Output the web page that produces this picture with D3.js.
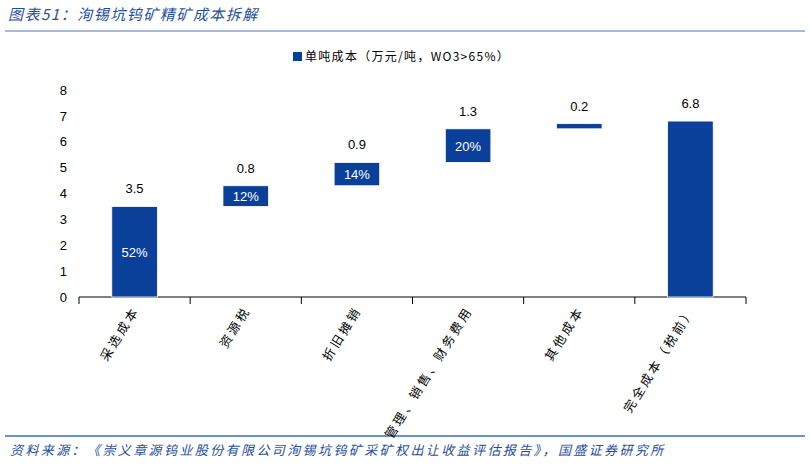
<!DOCTYPE html>
<html><head><meta charset="utf-8">
<script src="https://cdn.jsdelivr.net/npm/d3@7"></script>
<style>body{margin:0;background:#fff;font-family:"Noto Sans CJK SC","Liberation Sans",sans-serif;}</style>
</head><body><svg id="c" width="810" height="465"></svg>
<script>
const categories = ["采选成本", "资源税", "折旧摊销", "管理、销售、财务费用", "其他成本", "完全成本（税前）"];
const values = [3.5, 0.8, 0.9, 1.3, 0.2, 6.8];
const shares = ["52%", "12%", "14%", "20%", "", ""];
const yTicks = [0, 1, 2, 3, 4, 5, 6, 7, 8];

// waterfall bases: running total, last bar is the total from zero
const bases = [];
let run = 0;
values.forEach((v, i) => {
    if (i === values.length - 1) { bases.push(0); } else { bases.push(run); run += v; }
});

const svg = d3.select("#c");
const blue = "#0a3f9a";
const titleBlue = "#1f4e9c";

svg.append("text").attr("x", 8).attr("y", 20).attr("font-size", 15).attr("font-style", "italic")
   .attr("letter-spacing", 1.5).attr("fill", titleBlue).text("图表51：洵锡坑钨矿精矿成本拆解");
svg.append("line").attr("x1", 5).attr("x2", 805).attr("y1", 31).attr("y2", 31).attr("stroke", "#8aa6cc").attr("stroke-width", 1.5);
svg.append("line").attr("x1", 5).attr("x2", 805).attr("y1", 436).attr("y2", 436).attr("stroke", "#3a6fb5").attr("stroke-width", 1.5);
svg.append("text").attr("x", 10).attr("y", 455).attr("font-size", 13).attr("font-style", "italic")
   .attr("letter-spacing", 2.4).attr("fill", titleBlue)
   .text("资料来源：《崇义章源钨业股份有限公司洵锡坑钨矿采矿权出让收益评估报告》，国盛证券研究所");

const x = d3.scaleBand().domain(categories).range([79, 746]).paddingInner(0.59).paddingOuter(0.295);
const y = d3.scaleLinear().domain([0, 8]).range([297, 90]);

// legend
svg.append("rect").attr("x", 293).attr("y", 52).attr("width", 9).attr("height", 9).attr("fill", blue);
svg.append("text").attr("x", 305).attr("y", 61).attr("font-size", 12).attr("fill", "#000")
   .attr("letter-spacing", 1.3).text("单吨成本（万元/吨，WO3>65%）");

const yAxis = svg.append("g").attr("transform", "translate(79,0)")
   .call(d3.axisLeft(y).tickValues(yTicks).tickSize(0).tickPadding(12));
yAxis.select(".domain").remove();
yAxis.selectAll("text").attr("font-size", 13).attr("font-family", "Liberation Sans, sans-serif").attr("fill", "#000");

svg.append("line").attr("x1", 79).attr("x2", 746).attr("y1", 297).attr("y2", 297).attr("stroke", "#000");
const step = x.step();
d3.range(categories.length + 1).forEach(i => {
    svg.append("line").attr("x1", 79 + i * step).attr("x2", 79 + i * step)
       .attr("y1", 297).attr("y2", 304).attr("stroke", "#000");
});

const g = svg.append("g");
categories.forEach((c, i) => {
    const top = y(bases[i] + values[i]);
    const bot = y(bases[i]);
    g.append("rect").attr("x", x(c)).attr("y", top).attr("width", x.bandwidth())
     .attr("height", bot - top).attr("fill", blue).attr("stroke", "#fff").attr("stroke-width", 0.8);
    g.append("text").attr("x", x(c) + x.bandwidth() / 2).attr("y", top - 13)
     .attr("text-anchor", "middle").attr("font-size", 13).attr("font-family", "Liberation Sans, sans-serif")
     .text(values[i].toFixed(1));
    if (shares[i]) {
        g.append("text").attr("x", x(c) + x.bandwidth() / 2).attr("y", (top + bot) / 2 + 5)
         .attr("text-anchor", "middle").attr("font-size", 13).attr("fill", "#fff")
         .attr("font-family", "Liberation Sans, sans-serif").text(shares[i]);
    }
    const cx = x(c) + x.bandwidth() / 2;
    g.append("text").attr("transform", `translate(${cx + 5},${310}) rotate(-58)`)
     .attr("text-anchor", "end").attr("font-size", 12.5).attr("letter-spacing", 2.8)
     .attr("fill", "#000").text(c);
});
</script></body></html>
